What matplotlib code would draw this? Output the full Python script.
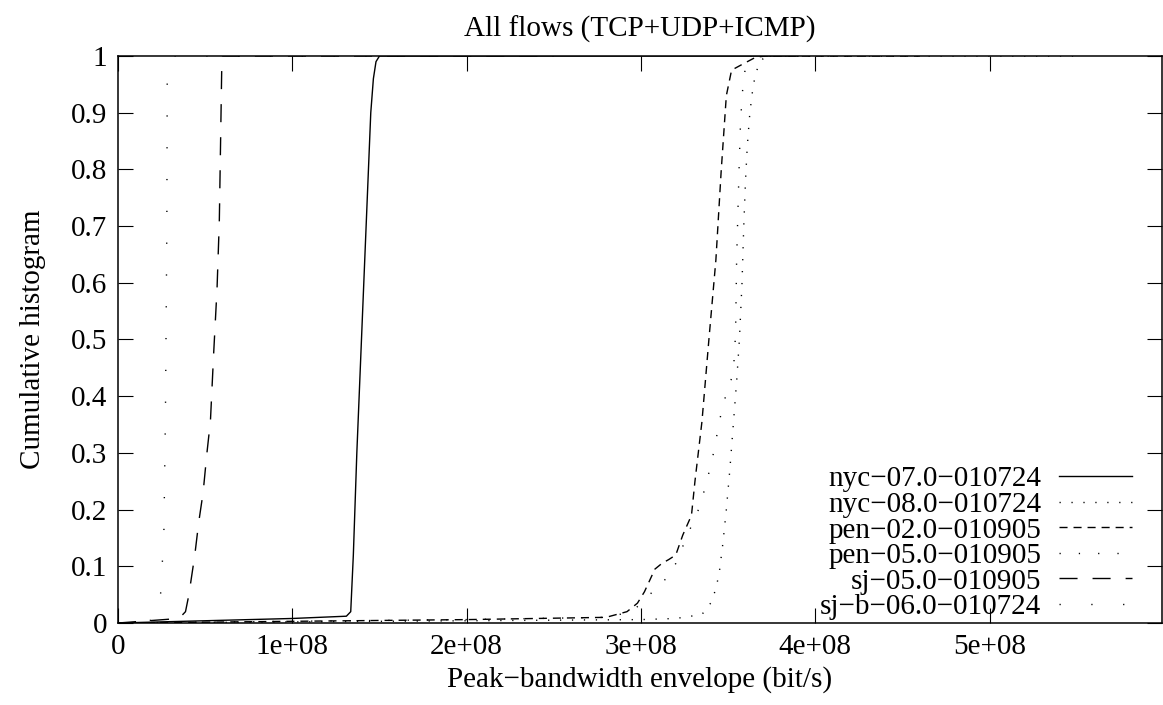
import matplotlib
matplotlib.use("Agg")
import matplotlib.pyplot as plt
import numpy as np

plt.rcParams['font.family'] = ['Liberation Serif', 'DejaVu Serif']
plt.rcParams['lines.scale_dashes'] = False

# ---- data (x in Mbit/s, y = cumulative fraction) ----
nyc07_x = [0, 50, 100, 131, 133.5, 135, 137, 139, 141, 143, 145, 146.5, 148, 150, 390]
nyc07_y = [0, 0.004, 0.008, 0.012, 0.02, 0.12, 0.3, 0.45, 0.6, 0.75, 0.9, 0.96, 0.99, 1.0, 1.0]

nyc08_x = [0, 100, 200, 300, 320, 335, 340, 343, 345, 347, 349, 351, 353, 355, 356.5,
           358, 359, 360, 361, 362.5, 364.5, 367, 370, 373, 550]
nyc08_y = [0, 0.002, 0.004, 0.006, 0.008, 0.015, 0.035, 0.06, 0.09, 0.14, 0.2, 0.27,
           0.35, 0.43, 0.5, 0.6, 0.7, 0.78, 0.84, 0.9, 0.95, 0.98, 0.995, 1.0, 1.0]

pen02_x = [0, 100, 200, 280, 292, 298, 302, 305, 308, 312, 316, 320, 324, 329, 331, 335,
           339, 343, 346, 349, 352, 358, 366, 372, 460]
pen02_y = [0, 0.003, 0.006, 0.01, 0.02, 0.035, 0.055, 0.075, 0.095, 0.105, 0.112, 0.12,
           0.155, 0.19, 0.25, 0.355, 0.5, 0.64, 0.795, 0.93, 0.975, 0.985, 0.998, 1.0, 1.0]

pen05_x = [0, 100, 200, 280, 295, 300, 305, 310, 315, 320, 326, 333, 337, 341, 346, 349,
           353, 354.3, 354.9, 355.6, 356.3, 357, 358, 359.5, 361, 420]
pen05_y = [0, 0.003, 0.006, 0.01, 0.02, 0.035, 0.05, 0.065, 0.08, 0.105, 0.15, 0.2,
           0.24, 0.29, 0.37, 0.405, 0.44, 0.51, 0.64, 0.72, 0.8, 0.87, 0.93, 0.97, 1.0, 1.0]

sj05_x = [0, 35, 38.7, 40.6, 44, 46.3, 48.8, 51, 53, 54.9, 56.8, 58.1, 58.9, 59.6, 250]
sj05_y = [0, 0.008, 0.02, 0.049, 0.119, 0.178, 0.23, 0.30, 0.356, 0.478, 0.59, 0.708,
          0.862, 1.0, 1.0]

sjb06_x = [0, 20, 23.5, 24.4, 25.3, 26.3, 27.2, 28.0, 28.2, 29, 31, 180]
sjb06_y = [0, 0.005, 0.02, 0.05, 0.10, 0.16, 0.37, 0.7, 0.95, 0.98, 1.0, 1.0]

labels = ["nyc\u221207.0\u2212010724", "nyc\u221208.0\u2212010724",
          "pen\u221202.0\u2212010905", "pen\u221205.0\u2212010905",
          "sj\u221205.0\u2212010905", "sj\u2212b\u221206.0\u2212010724"]
x_ticks = [0, 1e8, 2e8, 3e8, 4e8, 5e8]
x_ticklabels = ["0", "1e+08", "2e+08", "3e+08", "4e+08", "5e+08"]
y_ticks = [0, 0.1, 0.2, 0.3, 0.4, 0.5, 0.6, 0.7, 0.8, 0.9, 1]
y_ticklabels = ["0", "0.1", "0.2", "0.3", "0.4", "0.5", "0.6", "0.7", "0.8", "0.9", "1"]

series = [(nyc07_x, nyc07_y), (nyc08_x, nyc08_y), (pen02_x, pen02_y),
          (pen05_x, pen05_y), (sj05_x, sj05_y), (sjb06_x, sjb06_y)]
styles = ['-', (0, (0.9, 7.7)), (0, (5.8, 4.3)), (0, (0.9, 13)),
          (0, (13, 10.8)), (0, (0.9, 22))]

fs = 21
fig = plt.figure(figsize=(11.63, 7.05), dpi=100)
ax = fig.add_axes([0.1015, 0.1163, 0.8977, 0.8043])

for (xs, ys), ls, lab in zip(series, styles, labels):
    ax.plot(np.array(xs) * 1e6, ys, color='black', linewidth=1.0,
            linestyle=ls, dash_capstyle='butt', label=lab)

ax.set_xlim(0, 5.99e8)
ax.set_ylim(0, 1)
ax.set_xticks(x_ticks)
ax.set_xticklabels(x_ticklabels)
ax.set_yticks(y_ticks)
ax.set_yticklabels(y_ticklabels)
ax.tick_params(direction='in', length=10.5, width=0.8, top=True, right=True,
               labelsize=fs, pad=8)
for sp in ax.spines.values():
    sp.set_linewidth(1.1)

ax.set_title("All flows (TCP+UDP+ICMP)", fontsize=fs, pad=14)
ax.set_xlabel("Peak\u2212bandwidth envelope (bit/s)", fontsize=fs, labelpad=4)
ax.set_ylabel("Cumulative histogram", fontsize=fs, labelpad=18)

ax.legend(loc='lower right', bbox_to_anchor=(0.971, 0.005), frameon=False,
          markerfirst=False, fontsize=fs, handlelength=2.5, handletextpad=0.6,
          labelspacing=-0.03, borderpad=0, borderaxespad=0)

fig.savefig("out.png", dpi=100)
